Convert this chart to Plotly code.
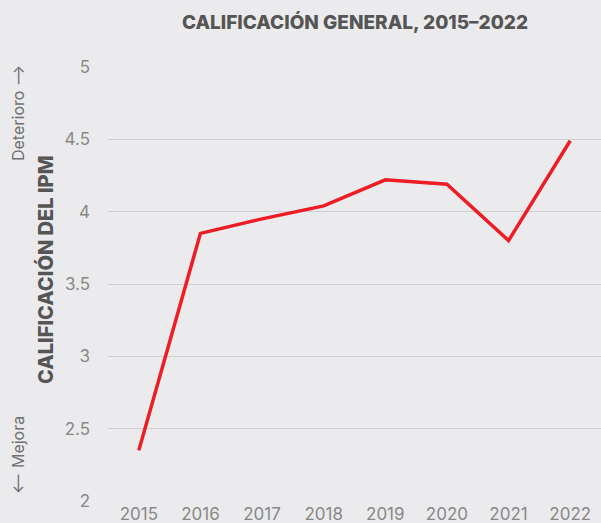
import plotly.graph_objects as go

years = [2015, 2016, 2017, 2018, 2019, 2020, 2021, 2022]
scores = [2.35, 3.85, 3.95, 4.04, 4.22, 4.19, 3.80, 4.49]
y_ticks = [2, 2.5, 3, 3.5, 4, 4.5, 5]
y_tick_labels = ["2", "2.5", "3", "3.5", "4", "4.5", "5"]

BG = "#EBEBED"
FONT = "Inter, Roboto, sans-serif"
fig = go.Figure()
fig.add_trace(go.Scatter(
    x=years, y=scores, mode="lines",
    line=dict(color="#EE1C25", width=3.5),
    hoverinfo="x+y", showlegend=False, cliponaxis=False,
))

fig.update_layout(
    width=601, height=523,
    paper_bgcolor=BG, plot_bgcolor=BG,
    margin=dict(l=108, r=0, t=67, b=22, autoexpand=False),
    font=dict(family=FONT, color="#888888"),
    title=dict(
        text="CALIFICACIÓN GENERAL, 2015–2022",
        x=355 / 601, xanchor="center", y=1 - 22 / 523, yanchor="middle",
        font=dict(size=19, color="#555555", family=FONT, weight=800),
    ),
    xaxis=dict(
        range=[2014.5, 2022.5], tickvals=years, ticktext=[str(y) for y in years],
        showgrid=False, zeroline=False, showline=False, ticks="",
        tickfont=dict(size=17, color="#888888"), ticklabelstandoff=1,
        automargin=False,
    ),
    yaxis=dict(
        range=[2, 5], tickvals=y_ticks, ticktext=y_tick_labels,
        showgrid=True, gridcolor="#CFCFD1", gridwidth=1, zeroline=False,
        showline=False, ticks="", ticklabelstandoff=17,
        tickfont=dict(size=17, color="#888888"), automargin=False,
    ),
    annotations=[
        dict(text="CALIFICACIÓN DEL IPM", textangle=-90,
             xref="paper", yref="paper", x=-63 / 493, y=(501 - 270) / 434,
             xanchor="center", yanchor="middle", showarrow=False,
             font=dict(size=20, color="#555555", weight=800)),
        dict(text="Deterioro ⟶", textangle=-90,
             xref="paper", yref="paper", x=-90 / 493, y=(501 - 113) / 434,
             xanchor="center", yanchor="middle", showarrow=False,
             font=dict(size=16, color="#707070", weight=400)),
        dict(text="⟵ Mejora", textangle=-90,
             xref="paper", yref="paper", x=-90 / 493, y=(501 - 455) / 434,
             xanchor="center", yanchor="middle", showarrow=False,
             font=dict(size=16, color="#707070", weight=400)),
    ],
)

fig.write_html(
    "out.html",
    config={"displayModeBar": False},
    post_script="document.body.style.margin='0';document.body.style.background='%s';"
                "document.body.style.overflow='hidden';" % BG,
)
